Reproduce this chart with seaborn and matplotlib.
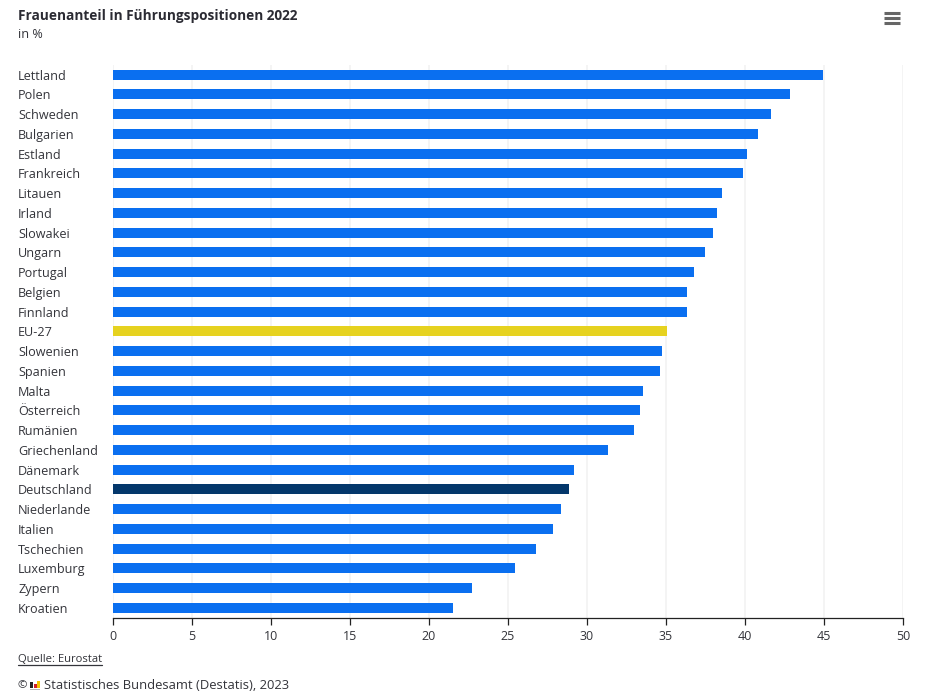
import matplotlib
matplotlib.use("Agg")
import matplotlib.pyplot as plt
import pandas as pd
import seaborn as sns
from matplotlib.lines import Line2D
from matplotlib.patches import Rectangle

# Values
countries = [
    "Lettland", "Polen", "Schweden", "Bulgarien", "Estland", "Frankreich", "Litauen",
    "Irland", "Slowakei", "Ungarn", "Portugal", "Belgien", "Finnland", "EU-27",
    "Slowenien", "Spanien", "Malta", "Österreich", "Rumänien", "Griechenland",
    "Dänemark", "Deutschland", "Niederlande", "Italien", "Tschechien", "Luxemburg",
    "Zypern", "Kroatien",
]
shares = [
    44.95, 42.85, 41.65, 40.8, 40.15, 39.85, 38.55, 38.2, 37.95, 37.45, 36.75, 36.35, 36.3,
    35.05, 34.75, 34.65, 33.55, 33.35, 32.95, 31.35, 29.15, 28.85, 28.35, 27.85, 26.75, 25.45,
    22.75, 21.55,
]
x_ticks = [0, 5, 10, 15, 20, 25, 30, 35, 40, 45, 50]

BLUE = "#0a6ff0"
YELLOW = "#e6d21f"
DARK = "#03376b"
TEXT = "#33343a"

W, H = 925, 697

sns.set_theme(style="white")
plt.rcParams["font.family"] = ["Open Sans", "DejaVu Sans"]

df = pd.DataFrame({"country": countries, "share": shares})
palette = {c: BLUE for c in countries}
palette["EU-27"] = YELLOW
palette["Deutschland"] = DARK

fig = plt.figure(figsize=(W / 100, H / 100), dpi=100, facecolor="white")
ax = fig.add_axes([113 / W, 1 - 617.8 / H, 790 / W, 553 / H])

sns.barplot(
    data=df,
    x="share",
    y="country",
    hue="country",
    palette=palette,
    order=countries,
    legend=False,
    width=0.5,
    saturation=1,
    linewidth=0,
    ax=ax,
)

ax.set_xlim(0, 50)
ax.set_ylim(len(countries) - 0.5, -0.5)
ax.set_xticks(x_ticks)
ax.set_xlabel("")
ax.set_ylabel("")
ax.grid(axis="x", color="#f2f2f2", linewidth=1.2)
ax.set_axisbelow(True)

for side in ["top", "right", "left"]:
    ax.spines[side].set_visible(False)
ax.spines["bottom"].set_color("#222222")
ax.spines["bottom"].set_linewidth(0.9)

ax.tick_params(axis="x", length=5, width=0.9, color="#222222", labelsize=9, labelcolor=TEXT, pad=3.5, bottom=True)
ax.set_yticks(range(len(countries)))
ax.set_yticklabels(countries, ha="left", fontsize=9.1, color=TEXT)
# tick pad is in points, 95 px back from the axis to the label column
ax.tick_params(axis="y", length=0, pad=95 * 0.72)

# Header and footer
fig.text(18 / W, 1 - 16 / H, "Frauenanteil in Führungspositionen 2022", fontsize=9.8,
         fontweight="bold", color="#2b2b33", va="center")
fig.text(18 / W, 1 - 34.5 / H, "in %", fontsize=9.1, color=TEXT, va="center")
fig.text(18 / W, 1 - 659 / H, "Quelle: Eurostat", fontsize=8.1, color=TEXT, va="center")
fig.add_artist(Line2D([18 / W, 102 / W], [1 - 664.8 / H] * 2, color=TEXT, linewidth=0.9))
fig.text(18 / W, 1 - 685.5 / H, "©", fontsize=8.2, color=TEXT, va="center")
fig.text(44 / W, 1 - 685.5 / H, "Statistisches Bundesamt (Destatis), 2023", fontsize=9.35,
         color=TEXT, va="center")

# Small destatis logo
for x0, y0, w, h, col in [
    (30, 682, 3, 6, "#222222"),
    (34, 684, 3, 4, "#d0202a"),
    (37, 681, 3, 7, "#f2c300"),
    (30, 688.5, 10, 1.5, "#b5b5b5"),
]:
    fig.add_artist(Rectangle((x0 / W, 1 - (y0 + h) / H), w / W, h / H, color=col,
                             transform=fig.transFigure, linewidth=0))

# Menu icon
for y in [12.5, 17.5, 22.5]:
    fig.add_artist(Line2D([884 / W, 900 / W], [1 - y / H] * 2, color="#666666",
                          linewidth=2.2, solid_capstyle="butt"))

fig.savefig("out.png", dpi=100, facecolor="white")
